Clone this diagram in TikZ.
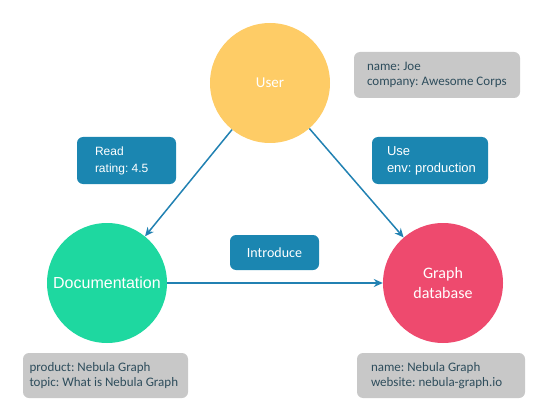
\documentclass[tikz,border=0pt]{standalone}
\usepackage{fontspec}
\setmainfont{Carlito}
\newfontfamily\arialf{Liberation Sans}
\usetikzlibrary{arrows.meta}
\definecolor{uyellow}{HTML}{FECC66}
\definecolor{dgreen}{HTML}{1ED8A0}
\definecolor{gpink}{HTML}{EE4A6E}
\definecolor{ebox}{HTML}{1B86B1}
\definecolor{earrow}{HTML}{2181B2}
\definecolor{pgray}{HTML}{C8C8C8}
\definecolor{ptext}{HTML}{2E4D5C}
\tikzset{
  vert/.style={circle, minimum size=120pt, inner sep=0pt, text=white, align=center},
  ebx/.style={fill=ebox, rounded corners=6pt, inner sep=0pt},
  etxt/.style={text=white, inner sep=0pt, align=left, anchor=west},
  prop/.style={fill=pgray, rounded corners=6pt, inner sep=0pt},
  ptxt/.style={text=ptext, inner sep=0pt, align=left, anchor=west, font=\frenchspacing\fontsize{13}{15.5}\selectfont},
  arr/.style={draw=earrow, line width=1.5pt, -{Stealth[length=9pt,width=8pt]}},
}
\begin{document}
\begin{tikzpicture}[x=1pt,y=-1pt]
\useasboundingbox (0,0) rectangle (546,417);
% vertices
\node[vert, fill=uyellow, font=\fontsize{15}{18}\selectfont] (user) at (270,83) {User};
\node[vert, fill=dgreen, font=\arialf\fontsize{16}{19}\selectfont] (doc) at (107,283) {Documentation};
\node[vert, fill=gpink, font=\fontsize{16}{20}\selectfont] (gdb) at (443,283) {Graph\\database};
% edges
\draw[arr] (user) -- (doc);
\draw[arr] (user) -- (gdb);
\draw[arr] (doc) -- (gdb);
% edge property boxes
\node[ebx, minimum width=99pt, minimum height=47pt] (read) at (126.5,160.5) {};
\node[etxt, font=\frenchspacing\arialf\fontsize{12}{17}\selectfont] (readt) at ([xshift=18pt]read.west) {Read\\rating: 4.5};
\node[ebx, minimum width=116pt, minimum height=47pt] (use) at (430,160.5) {};
\node[etxt, font=\frenchspacing\arialf\fontsize{13}{17}\selectfont] (uset) at ([xshift=15pt]use.west) {Use\\env: production};
\node[ebx, minimum width=89pt, minimum height=35pt, text=white, font=\fontsize{14}{17}\selectfont] (intro) at (274.5,252.5) {Introduce};
% vertex property boxes
\node[prop, minimum width=166pt, minimum height=46pt] (puser) at (437,75) {};
\node[ptxt] (pusert) at ([xshift=13pt]puser.west) {name: Joe\\company: Awesome Corps};
\node[prop, minimum width=165pt, minimum height=45pt] (pdoc) at (105.5,375.5) {};
\node[ptxt] (pdoct) at ([xshift=6.5pt]pdoc.west) {product: Nebula Graph\\topic: What is Nebula Graph};
\node[prop, minimum width=168pt, minimum height=45pt] (pgdb) at (441,375.5) {};
\node[ptxt] (pgdbt) at ([xshift=14pt]pgdb.west) {name: Nebula Graph\\website: nebula-graph.io};
\end{tikzpicture}
\end{document}
